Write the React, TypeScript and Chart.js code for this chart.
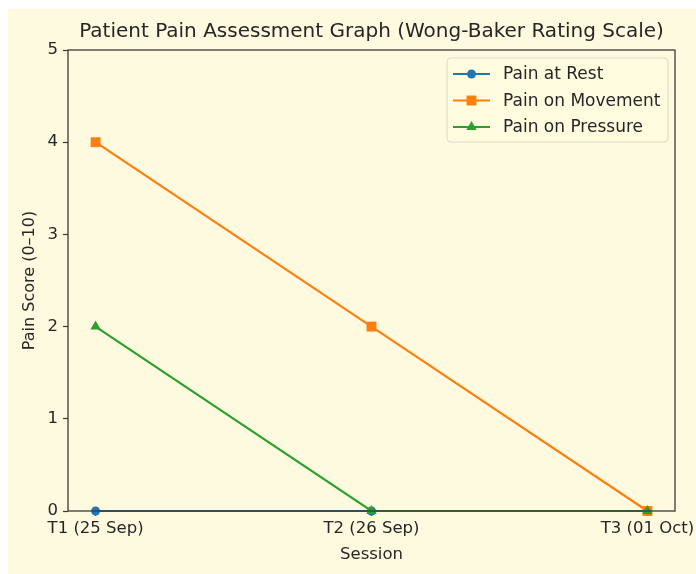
import React, { useEffect, useRef } from "react";
import { Chart, registerables } from "chart.js";

Chart.register(...registerables);

const sessions = ["T1 (25 Sep)", "T2 (26 Sep)", "T3 (01 Oct)"];
const painAtRest = [0, 0, 0];
const painOnMovement = [4, 2, 0];
const painOnPressure = [2, 0, 0];
const seriesNames = ["Pain at Rest", "Pain on Movement", "Pain on Pressure"];
const seriesColors = ["#1f77b4", "#ff7f0e", "#2ca02c"];
const seriesMarkers = ["circle", "rect", "triangle"];
const markerRadius = [4.5, 7, 6];
const yTicks = [0, 1, 2, 3, 4, 5];

const BG = "#fefadf";
const FONT = "'DejaVu Sans', sans-serif";
const TEXT = "#262626";
const AXIS = "#3a3a3a";

function drawMarker(ctx: CanvasRenderingContext2D, style: string, x: number, y: number, rad: number) {
  ctx.beginPath();
  if (style === "circle") {
    ctx.arc(x, y, rad, 0, Math.PI * 2);
  } else if (style === "rect") {
    const s = rad * Math.SQRT1_2;
    ctx.rect(x - s, y - s, 2 * s, 2 * s);
  } else {
    const a = (Math.PI * 2) / 3;
    for (let k = 0; k < 3; k++) {
      const ang = -Math.PI / 2 + k * a;
      const px = x + Math.cos(ang) * rad;
      const py = y + Math.sin(ang) * rad;
      if (k === 0) ctx.moveTo(px, py);
      else ctx.lineTo(px, py);
    }
    ctx.closePath();
  }
  ctx.fill();
}

const frameAndLegend = {
  id: "frameAndLegend",
  afterDraw(chart: any) {
    const { ctx, chartArea } = chart;
    const { left, right, top, bottom } = chartArea;
    ctx.save();
    ctx.strokeStyle = AXIS;
    ctx.lineWidth = 1.3;
    ctx.strokeRect(left, top, right - left, bottom - top);

    const bw = 221;
    const bh = 84;
    const bx = right - 7 - bw;
    const by = top + 8;
    const r = 4;
    ctx.beginPath();
    ctx.moveTo(bx + r, by);
    ctx.lineTo(bx + bw - r, by);
    ctx.quadraticCurveTo(bx + bw, by, bx + bw, by + r);
    ctx.lineTo(bx + bw, by + bh - r);
    ctx.quadraticCurveTo(bx + bw, by + bh, bx + bw - r, by + bh);
    ctx.lineTo(bx + r, by + bh);
    ctx.quadraticCurveTo(bx, by + bh, bx, by + bh - r);
    ctx.lineTo(bx, by + r);
    ctx.quadraticCurveTo(bx, by, bx + r, by);
    ctx.closePath();
    ctx.fillStyle = "rgba(254,250,223,0.85)";
    ctx.fill();
    ctx.strokeStyle = "#dcd8c4";
    ctx.lineWidth = 1;
    ctx.stroke();

    chart.data.datasets.forEach((ds: any, i: number) => {
      const yy = by + 16 + i * 26.5;
      ctx.strokeStyle = ds.borderColor;
      ctx.lineWidth = 2.2;
      ctx.beginPath();
      ctx.moveTo(bx + 6, yy);
      ctx.lineTo(bx + 43, yy);
      ctx.stroke();
      ctx.fillStyle = ds.borderColor;
      drawMarker(ctx, ds.pointStyle, bx + 24.5, yy, ds.pointRadius);
      ctx.fillStyle = TEXT;
      ctx.font = `17px ${FONT}`;
      ctx.textBaseline = "middle";
      ctx.textAlign = "left";
      ctx.fillText(ds.label, bx + 56, yy + 1);
    });
    ctx.restore();
  },
};

export default function App() {
  const ref = useRef<HTMLCanvasElement | null>(null);
  useEffect(() => {
    if (!ref.current) return;
    const allSeries = [painAtRest, painOnMovement, painOnPressure];
    const chart = new Chart(ref.current, {
      type: "line",
      data: {
        datasets: allSeries.map((vals, i) => ({
          label: seriesNames[i],
          data: vals.map((v, j) => ({ x: j, y: v })),
          borderColor: seriesColors[i],
          backgroundColor: seriesColors[i],
          pointBackgroundColor: seriesColors[i],
          pointBorderColor: seriesColors[i],
          pointStyle: seriesMarkers[i] as any,
          pointRadius: markerRadius[i],
          pointBorderWidth: 0,
          borderWidth: 2.2,
          tension: 0,
          fill: false,
          clip: false as any,
          order: 3 - i,
        })),
      },
      options: {
        animation: false,
        responsive: false,
        maintainAspectRatio: false,
        layout: { padding: { left: 0, right: 21, top: 0, bottom: 0 } },
        plugins: {
          legend: { display: false },
          tooltip: { enabled: false },
          title: {
            display: true,
            fullSize: false,
            text: "Patient Pain Assessment Graph (Wong-Baker Rating Scale)",
            color: TEXT,
            font: { family: FONT, size: 20, weight: "normal" },
            padding: { top: 11, bottom: 6 },
          },
        },
        scales: {
          x: {
            type: "linear",
            min: -0.1,
            max: 2.1,
            afterBuildTicks: (s: any) => {
              s.ticks = sessions.map((_, i) => ({ value: i }));
            },
            afterFit: (s: any) => {
              s.height = 63;
              s.paddingRight = 0;
              s.paddingLeft = 0;
            },
            ticks: {
              callback: (v: any) => sessions[v] ?? "",
              color: TEXT,
              font: { family: FONT, size: 16.5 },
              padding: 3,
              maxRotation: 0,
              autoSkip: false,
            },
            grid: {
              drawOnChartArea: false,
              drawTicks: true,
              tickLength: 5,
              color: AXIS,
              tickWidth: 1.2,
            },
            border: { display: false },
            title: {
              display: true,
              text: "Session",
              color: TEXT,
              font: { family: FONT, size: 16.5 },
              padding: { top: 0, bottom: 9 },
            },
          },
          y: {
            min: 0,
            max: 5,
            afterBuildTicks: (s: any) => {
              s.ticks = yTicks.map((v) => ({ value: v }));
            },
            afterFit: (s: any) => {
              s.width = 60;
              s.paddingTop = 0;
              s.paddingBottom = 0;
            },
            ticks: {
              color: TEXT,
              font: { family: FONT, size: 16.5 },
              padding: 5,
            },
            grid: {
              drawOnChartArea: false,
              drawTicks: true,
              tickLength: 5,
              color: AXIS,
              tickWidth: 1.2,
            },
            border: { display: false },
            title: {
              display: true,
              text: "Pain Score (0–10)",
              color: TEXT,
              font: { family: FONT, size: 16 },
              padding: { top: 12, bottom: 0 },
            },
          },
        },
      },
      plugins: [frameAndLegend],
    } as any);
    return () => chart.destroy();
  }, []);

  return (
    <div style={{ position: "absolute", left: 8, top: 9, width: 688, height: 565, background: BG }}>
      <canvas ref={ref} width={688} height={565} style={{ display: "block" }} />
    </div>
  );
}
